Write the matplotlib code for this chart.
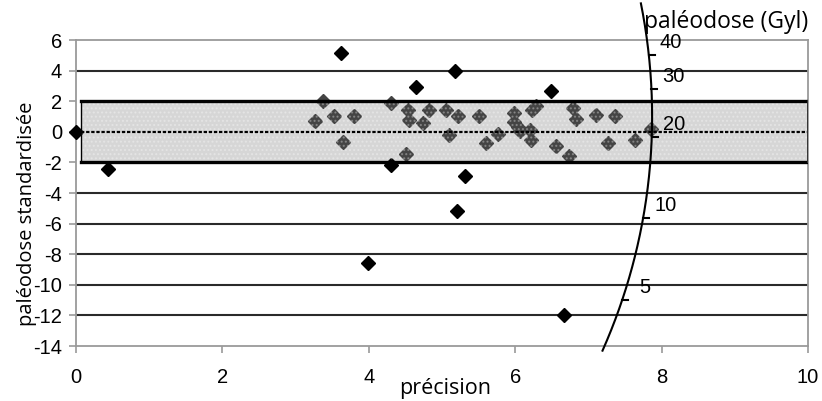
import numpy as np
import matplotlib.pyplot as plt
from matplotlib.patches import Rectangle

plt.rcParams["font.family"] = ["Liberation Sans", "DejaVu Sans"]
plt.rcParams["axes.unicode_minus"] = False

# points en dehors de la bande +/-2 (noirs)
x_out = [0.0, 0.43, 3.62, 4.30, 4.65, 5.18, 5.32, 6.49, 5.20, 3.99, 6.66]
y_out = [0.0, -2.44, 5.15, -2.18, 2.92, 3.99, -2.90, 2.66, -5.15, -8.55, -11.98]

# points dans la bande (gris)
x_in = [3.37, 3.26, 3.52, 3.80, 3.65, 4.30, 4.53, 4.55, 4.51, 4.82, 4.74,
        5.06, 5.22, 5.10, 5.51, 5.60, 5.76, 5.98, 5.99, 6.04, 6.07, 6.20,
        6.22, 6.23, 6.28, 6.56, 6.74, 6.79, 6.83, 7.10, 7.27, 7.36, 7.64, 7.86]
y_in = [2.03, 0.70, 1.05, 1.07, -0.63, 1.90, 1.46, 0.77, -1.42, 1.44, 0.60,
        1.40, 1.05, -0.20, 1.05, -0.72, -0.12, 1.22, 0.67, 0.30, 0.09, 0.13,
        -0.56, 1.44, 1.66, -0.94, -1.59, 1.58, 0.84, 1.11, -0.70, 1.06, -0.52, 0.18]

# arc radial : paleodoses (Gy)
dose_ticks = [40, 30, 20, 10, 5]
dose_center = 20.8
dose_scale = 7.7
arc_R = 7.87
arc_a = 0.0436
arc_y0 = 1.0

fig = plt.figure(figsize=(8.22, 4.01), dpi=100)
ax = fig.add_axes([0.0925, 0.137, 0.8905, 0.763])

ax.set_xlim(0, 10)
ax.set_ylim(-14, 6)
ax.set_xticks(np.arange(0, 11, 2))
ax.set_yticks(np.arange(-14, 7, 2))

for yv in np.arange(-12, 6, 2):
    if yv in (-2, 0, 2):
        continue
    ax.axhline(yv, color="#2a2a2a", lw=1.5, zorder=1)

for s in ax.spines.values():
    s.set_color("#9a9a9a")
    s.set_linewidth(1.3)

ax.tick_params(axis="both", colors="#9a9a9a", length=5, width=1.2,
               labelcolor="black", labelsize=14.5)
ax.tick_params(axis="x", pad=11)
ax.tick_params(axis="y", pad=5)

# points
ax.plot(x_out, y_out, "D", color="black", ms=6.8, zorder=3, clip_on=False)
ax.plot(x_in, y_in, "D", color="#444444", ms=6.8, zorder=3)

# bande +/-2
band = Rectangle((0.065, -2), 10 - 0.065, 4, facecolor="#d6d6d6",
                 edgecolor="none", zorder=2)
ax.add_patch(band)
hatch = Rectangle((0.065, -2), 10 - 0.065, 4, facecolor="none",
                  edgecolor="#ffffff", hatch="....", lw=0, zorder=4, alpha=0.3)
ax.add_patch(hatch)
ax.plot([0.065, 10], [2, 2], color="black", lw=2.4, zorder=5)
ax.plot([0.065, 10], [-2, -2], color="black", lw=2.4, zorder=5)
ax.plot([0.065, 10], [0, 0], color="black", lw=1.6, ls=(0, (1.5, 0.8)), zorder=5)
ax.plot([0.065, 0.065], [-2, 2], color="black", lw=1.0, zorder=5)
ax.plot([10, 10], [-2, 2], color="#333333", lw=1.4, zorder=5)

# arc
ya = np.linspace(-14.3, 8.4, 300)
xa = np.sqrt(arc_R**2 - arc_a * (ya - arc_y0)**2)
ax.plot(xa, ya, color="black", lw=1.5, zorder=6, clip_on=False)

for d in dose_ticks:
    yt = dose_scale * np.log(d / dose_center)
    xt = np.sqrt(arc_R**2 - arc_a * (yt - arc_y0)**2)
    ax.plot([xt, xt + 0.08], [yt, yt], color="black", lw=1.5, zorder=6)
    ax.annotate(str(d), (xt, yt), xytext=(16, 9), textcoords="offset points",
                ha="center", va="center", fontsize=14.5, zorder=7)

fig.text(0.541, 0.032, "précision", fontsize=15.5, family=["Open Sans"],
         ha="center", va="center")
fig.text(0.033, 0.467, "paléodose standardisée", fontsize=14.5,
         family=["Open Sans"], ha="center", va="center", rotation=90)
fig.text(0.883, 0.944, "paléodose (Gyl)", fontsize=16.5, family=["Open Sans"],
         ha="center", va="center")

fig.savefig("out.png", dpi=100)
